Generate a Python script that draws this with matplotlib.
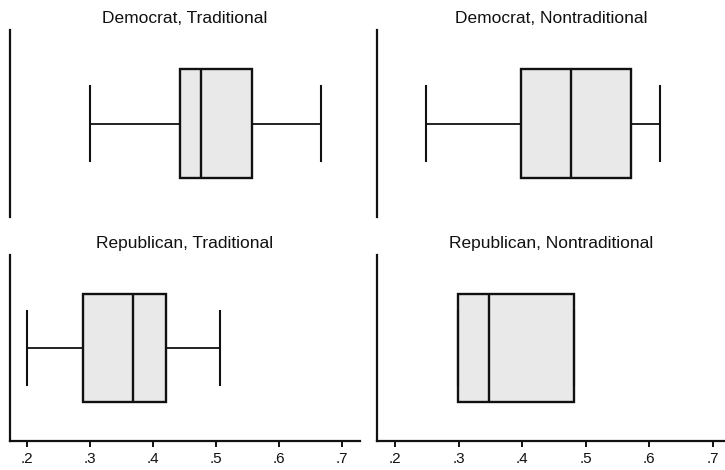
import matplotlib
matplotlib.use("Agg")
import matplotlib.pyplot as plt

# panel titles and five-number summaries
titles = ["Democrat, Traditional", "Democrat, Nontraditional",
          "Republican, Traditional", "Republican, Nontraditional"]
whis_lo = [0.300, 0.248, 0.200, 0.299]
q1 = [0.444, 0.398, 0.289, 0.299]
median = [0.477, 0.476, 0.369, 0.348]
q3 = [0.558, 0.571, 0.421, 0.482]
whis_hi = [0.667, 0.616, 0.507, 0.482]

ticks = [0.2, 0.3, 0.4, 0.5, 0.6, 0.7]
tick_labels = [".2", ".3", ".4", ".5", ".6", ".7"]

plt.rcParams["font.family"] = ["Liberation Sans", "DejaVu Sans"]

fig = plt.figure(figsize=(7.25, 4.7), dpi=100)

# [left, bottom, width, height] in figure fraction
positions = [
    [0.0138, 0.538, 0.4828, 0.398],
    [0.520, 0.538, 0.480, 0.398],
    [0.0138, 0.0623, 0.4828, 0.395],
    [0.520, 0.0623, 0.480, 0.395],
]
xlims = [(0.1735, 0.729), (0.171, 0.719), (0.1735, 0.729), (0.171, 0.719)]

line = "#111111"
for i, pos in enumerate(positions):
    ax = fig.add_axes(pos)
    stats = [{"whislo": whis_lo[i], "q1": q1[i], "med": median[i],
              "q3": q3[i], "whishi": whis_hi[i], "fliers": []}]
    ax.bxp(stats, positions=[0.5], widths=0.583, capwidths=0.40,
           orientation="horizontal", patch_artist=True, showfliers=False,
           boxprops=dict(facecolor="#e9e9e9", edgecolor=line, linewidth=1.7),
           medianprops=dict(color=line, linewidth=1.7),
           whiskerprops=dict(color=line, linewidth=1.3),
           capprops=dict(color=line, linewidth=1.5))
    ax.set_ylim(0, 1)
    ax.set_xlim(*xlims[i])
    ax.set_yticks([])
    ax.set_title(titles[i], fontsize=12.5, pad=5, color=line)
    for s in ["top", "right"]:
        ax.spines[s].set_visible(False)
    ax.spines["left"].set_linewidth(1.6)
    ax.spines["left"].set_color(line)
    if i < 2:
        ax.spines["bottom"].set_visible(False)
        ax.set_xticks([])
    else:
        ax.spines["bottom"].set_linewidth(1.6)
        ax.spines["bottom"].set_color(line)
        ax.set_xticks(ticks)
        ax.set_xticklabels(tick_labels, fontsize=11, color=line)
        ax.tick_params(axis="x", length=4, width=1.4, color=line, pad=4)

fig.savefig("out.png", dpi=100)
